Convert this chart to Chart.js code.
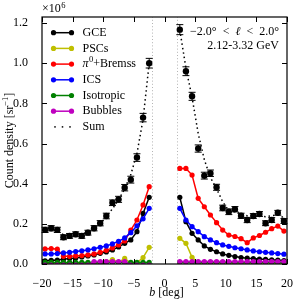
<!DOCTYPE html>
<html>
<head>
<meta charset="utf-8">
<script src="https://cdn.jsdelivr.net/npm/chart.js@4.4.1/dist/chart.umd.min.js"></script>
<style>
  html, body { margin: 0; padding: 0; background: #fff; }
</style>
</head>
<body>
<canvas id="profile" width="300" height="300"></canvas>
<script>
// Latitude bins (deg), south and north of the plane
const bSouth = [-19.5, -18.5, -17.5, -16.5, -15.5, -14.5, -13.5, -12.5, -11.5,
                -10.5, -9.5, -8.5, -7.5, -6.5, -5.5, -4.5, -3.5, -2.5];
const bNorth = [2.5, 3.5, 4.5, 5.5, 6.5, 7.5, 8.5, 9.5, 10.5,
                11.5, 12.5, 13.5, 14.5, 15.5, 16.5, 17.5, 18.5, 19.5];

// Data (x10^6 sr^-1) with errors
const dataSouth = [0.170, 0.178, 0.170, 0.133, 0.140, 0.148, 0.140, 0.156, 0.178,
                   0.203, 0.239, 0.305, 0.322, 0.380, 0.420, 0.530, 0.729, 1.000];
const dataNorth = [1.167, 0.960, 0.835, 0.575, 0.440, 0.452, 0.382, 0.279, 0.260,
                   0.273, 0.240, 0.219, 0.239, 0.249, 0.203, 0.219, 0.255, 0.214];
const errSouth = [0.013, 0.013, 0.013, 0.012, 0.012, 0.012, 0.012, 0.012, 0.013,
                  0.013, 0.014, 0.014, 0.015, 0.016, 0.017, 0.019, 0.021, 0.024];
const errNorth = [0.025, 0.022, 0.020, 0.018, 0.017, 0.016, 0.015, 0.014, 0.014,
                  0.013, 0.013, 0.013, 0.012, 0.012, 0.012, 0.012, 0.012, 0.012];

// Model components
const gceSouth = [0.016, 0.018, 0.020, 0.024, 0.027, 0.030, 0.035, 0.040, 0.045,
                  0.053, 0.060, 0.070, 0.085, 0.103, 0.120, 0.161, 0.252, 0.332];
const gceNorth = [0.332, 0.211, 0.153, 0.120, 0.090, 0.073, 0.061, 0.050, 0.043,
                  0.037, 0.032, 0.029, 0.027, 0.025, 0.023, 0.021, 0.019, 0.017];
const pscSouth = [0.005, 0.005, 0.005, 0.005, 0.005, 0.005, 0.005, 0.005, 0.005,
                  0.005, 0.012, 0.022, 0.008, 0.028, 0.005, 0.006, 0.032, 0.083];
const pscNorth = [0.128, 0.103, 0.033, 0.005, 0.005, 0.005, 0.005, 0.005, 0.005,
                  0.005, 0.005, 0.005, 0.005, 0.005, 0.005, 0.005, 0.005, 0.005];
const pionSouth = [0.075, 0.077, 0.074, 0.038, 0.038, 0.040, 0.042, 0.045, 0.050,
                   0.058, 0.068, 0.080, 0.095, 0.115, 0.169, 0.219, 0.294, 0.385];
const pionNorth = [0.476, 0.476, 0.443, 0.327, 0.285, 0.244, 0.206, 0.169, 0.144,
                   0.137, 0.126, 0.106, 0.130, 0.142, 0.158, 0.176, 0.189, 0.164];
const icsSouth = [0.050, 0.050, 0.052, 0.055, 0.058, 0.062, 0.066, 0.070, 0.076,
                  0.083, 0.090, 0.100, 0.113, 0.130, 0.156, 0.190, 0.225, 0.277];
const icsNorth = [0.277, 0.219, 0.186, 0.161, 0.136, 0.120, 0.106, 0.095, 0.088,
                  0.081, 0.076, 0.070, 0.065, 0.061, 0.058, 0.055, 0.052, 0.049];
const isoSouth = [0.008, 0.008, 0.008, 0.008, 0.008, 0.008, 0.008, 0.008, 0.008,
                  0.008, 0.008, 0.008, 0.008, 0.008, 0.008, 0.008, 0.008, 0.008];
const isoNorth = [0.008, 0.008, 0.008, 0.008, 0.008, 0.008, 0.008, 0.008, 0.008,
                  0.008, 0.008, 0.008, 0.008, 0.008, 0.008, 0.008, 0.008, 0.008];
const bubSouth = [-0.005, -0.005, -0.005, -0.005, -0.005, -0.005, -0.005, -0.005, 0.012,
                  0.012, 0.012, 0.012, 0.012, 0.012, -0.005, -0.005, -0.005, -0.005];
const bubNorth = [0.012, 0.012, 0.012, 0.012, 0.012, 0.012, 0.012, 0.012, 0.012,
                  0.012, 0.012, 0.012, 0.012, 0.012, 0.012, 0.012, 0.012, 0.012];
const sumSouth = [0.175, 0.172, 0.165, 0.145, 0.140, 0.142, 0.148, 0.160, 0.175,
                  0.200, 0.235, 0.275, 0.320, 0.375, 0.445, 0.550, 0.720, 1.000];
const sumNorth = [1.165, 0.975, 0.830, 0.650, 0.520, 0.430, 0.375, 0.310, 0.265,
                  0.260, 0.250, 0.240, 0.240, 0.240, 0.235, 0.240, 0.245, 0.230];

// Masked band |b| < 2
const maskEdges = [-2, 2];

// Axes
const xTicks = [-20, -15, -10, -5, 0, 5, 10, 15, 20];
const yTicks = [0.0, 0.2, 0.4, 0.6, 0.8, 1.0, 1.2];
const yMax = 1.23;

const SERIF = '"Liberation Serif", "DejaVu Serif", serif';

// join south and north halves with a gap at b = 0
function join(south, north) {
    return south.map((v, i) => ({ x: bSouth[i], y: v }))
        .concat([{ x: 0, y: null }])
        .concat(north.map((v, i) => ({ x: bNorth[i], y: v })));
}

function component(label, south, north, color, order) {
    return {
        label: label,
        data: join(south, north),
        borderColor: color,
        backgroundColor: color,
        borderWidth: 1.5,
        pointRadius: 2.6,
        pointBorderWidth: 0,
        pointBackgroundColor: color,
        tension: 0,
        order: order
    };
}

const datasets = [
    {
        label: 'Data',
        data: join(dataSouth, dataNorth),
        showLine: false,
        pointRadius: 3.2,
        pointBorderWidth: 0,
        pointBackgroundColor: '#000',
        borderColor: '#000',
        errors: errSouth.concat([0], errNorth),
        order: 0
    },
    {
        label: 'Sum',
        data: join(sumSouth, sumNorth),
        borderColor: '#000',
        borderWidth: 1.5,
        borderDash: [1.5, 3],
        pointRadius: 0,
        order: 1
    },
    component('Bubbles', bubSouth, bubNorth, '#bf00bf', 2),
    component('Isotropic', isoSouth, isoNorth, '#008000', 3),
    component('ICS', icsSouth, icsNorth, '#0000ff', 4),
    component('π0+Bremss', pionSouth, pionNorth, '#ff0000', 5),
    component('PSCs', pscSouth, pscNorth, '#bfbf00', 6),
    component('GCE', gceSouth, gceNorth, '#000000', 7)
];

// Legend entries in display order
const legendItems = [
    { text: 'GCE', color: '#000000' },
    { text: 'PSCs', color: '#bfbf00' },
    { text: 'π', sup: '0', rest: '+Bremss', color: '#ff0000' },
    { text: 'ICS', color: '#0000ff' },
    { text: 'Isotropic', color: '#008000' },
    { text: 'Bubbles', color: '#bf00bf' },
    { text: 'Sum', color: '#000000', dotted: true }
];

// Mask lines drawn behind the data
const maskPlugin = {
    id: 'mask',
    beforeDatasetsDraw(chart) {
        const { ctx, chartArea: a, scales } = chart;
        ctx.save();
        ctx.strokeStyle = '#b4b4b4';
        ctx.lineWidth = 1;
        ctx.setLineDash([1, 2.2]);
        maskEdges.forEach(b => {
            const px = Math.round(scales.x.getPixelForValue(b)) + 0.5;
            ctx.beginPath();
            ctx.moveTo(px, a.bottom);
            ctx.lineTo(px, a.top);
            ctx.stroke();
        });
        ctx.restore();
    }
};

// Error bars, frame, inward ticks, texts and legend
const decorPlugin = {
    id: 'decor',
    afterDatasetsDraw(chart) {
        const { ctx, scales } = chart;
        const ds = chart.data.datasets[0];
        ctx.save();
        ctx.strokeStyle = '#000';
        ctx.lineWidth = 1;
        ds.data.forEach((p, i) => {
            if (p.y === null) return;
            const e = ds.errors[i];
            const px = scales.x.getPixelForValue(p.x);
            const y1 = scales.y.getPixelForValue(p.y - e);
            const y2 = scales.y.getPixelForValue(p.y + e);
            ctx.beginPath();
            ctx.moveTo(px, y1); ctx.lineTo(px, y2);
            ctx.moveTo(px - 3.5, y1); ctx.lineTo(px + 3.5, y1);
            ctx.moveTo(px - 3.5, y2); ctx.lineTo(px + 3.5, y2);
            ctx.stroke();
        });
        ctx.restore();
    },
    afterDraw(chart) {
        const { ctx, chartArea: a, scales } = chart;
        ctx.save();

        // frame
        ctx.strokeStyle = '#000';
        ctx.lineWidth = 1.2;
        ctx.strokeRect(a.left, a.top, a.right - a.left, a.bottom - a.top);

        // inward ticks on all four sides
        ctx.lineWidth = 1;
        ctx.beginPath();
        xTicks.forEach(v => {
            const px = Math.round(scales.x.getPixelForValue(v)) + 0.5;
            ctx.moveTo(px, a.bottom); ctx.lineTo(px, a.bottom - 5);
            ctx.moveTo(px, a.top); ctx.lineTo(px, a.top + 5);
        });
        yTicks.forEach(v => {
            const py = Math.round(scales.y.getPixelForValue(v)) + 0.5;
            ctx.moveTo(a.left, py); ctx.lineTo(a.left + 5, py);
            ctx.moveTo(a.right, py); ctx.lineTo(a.right - 5, py);
        });
        ctx.stroke();

        ctx.fillStyle = '#000';
        ctx.textBaseline = 'middle';

        // multiplier
        ctx.font = '12px ' + SERIF;
        ctx.textAlign = 'left';
        ctx.fillText('×10', a.left, 9);
        const mw = ctx.measureText('×10').width;
        ctx.font = '8.5px ' + SERIF;
        ctx.fillText('6', a.left + mw + 0.5, 5.5);

        // axis titles
        ctx.font = 'italic 12px ' + SERIF;
        ctx.textAlign = 'left';
        const xt = ' [deg]';
        ctx.font = '12px ' + SERIF;
        const wDeg = ctx.measureText(xt).width;
        ctx.font = 'italic 12px ' + SERIF;
        const wB = ctx.measureText('b').width;
        const xStart = (a.left + a.right) / 2 + 2 - (wB + wDeg) / 2;
        ctx.fillText('b', xStart, 293);
        ctx.font = '12px ' + SERIF;
        ctx.fillText(xt, xStart + wB, 293);

        ctx.save();
        ctx.translate(10, (a.top + a.bottom) / 2);
        ctx.rotate(-Math.PI / 2);
        ctx.font = '12px ' + SERIF;
        const yt1 = 'Count density [sr';
        const w1 = ctx.measureText(yt1).width;
        ctx.font = '8.5px ' + SERIF;
        const w2 = ctx.measureText('−1').width;
        ctx.font = '12px ' + SERIF;
        const w3 = ctx.measureText(']').width;
        let tx = -(w1 + w2 + w3) / 2;
        ctx.fillText(yt1, tx, 0);
        ctx.font = '8.5px ' + SERIF;
        ctx.fillText('−1', tx + w1, -4);
        ctx.font = '12px ' + SERIF;
        ctx.fillText(']', tx + w1 + w2, 0);
        ctx.restore();

        // region annotation
        ctx.textAlign = 'right';
        ctx.font = '12px ' + SERIF;
        const parts = [['−2.0°  <  ', ''], ['ℓ', 'italic '], ['  <  2.0°', '']];
        let widths = parts.map(p => { ctx.font = p[1] + '12px ' + SERIF; return ctx.measureText(p[0]).width; });
        let ax = 279 - widths.reduce((s, w) => s + w, 0);
        ctx.textAlign = 'left';
        parts.forEach((p, i) => {
            ctx.font = p[1] + '12px ' + SERIF;
            ctx.fillText(p[0], ax, 32);
            ax += widths[i];
        });
        ctx.font = '12px ' + SERIF;
        ctx.textAlign = 'right';
        ctx.fillText('2.12-3.32 GeV', 279, 46);

        // legend
        ctx.textAlign = 'left';
        legendItems.forEach((it, i) => {
            const y = 32.7 + i * 15.7;
            const x0 = 53.5, x1 = 71.5;
            if (it.dotted) {
                ctx.fillStyle = '#000';
                [55, 62.5, 70].forEach(dx => ctx.fillRect(dx - 0.75, y - 0.75, 1.5, 1.5));
            } else {
                ctx.strokeStyle = it.color;
                ctx.lineWidth = 1.5;
                ctx.beginPath();
                ctx.moveTo(x0, y); ctx.lineTo(x1, y);
                ctx.stroke();
                ctx.fillStyle = it.color;
                [x0, x1].forEach(cx => {
                    ctx.beginPath();
                    ctx.arc(cx, y, 2.6, 0, Math.PI * 2);
                    ctx.fill();
                });
            }
            ctx.fillStyle = '#000';
            ctx.font = '12px ' + SERIF;
            let tx = 82.5;
            if (it.sup) {
                ctx.font = 'italic 12px ' + SERIF;
                ctx.fillText(it.text, tx, y);
                tx += ctx.measureText(it.text).width + 0.5;
                ctx.font = '8.5px ' + SERIF;
                ctx.fillText(it.sup, tx, y - 4);
                tx += ctx.measureText(it.sup).width;
                ctx.font = '12px ' + SERIF;
                ctx.fillText(it.rest, tx, y);
            } else {
                ctx.fillText(it.text, tx, y);
            }
        });

        ctx.restore();
    }
};

function minusLabel(v, digits) {
    const s = digits ? Math.abs(v).toFixed(digits) : String(Math.abs(v));
    return v < 0 ? '−' + s : s;
}

new Chart(document.getElementById('profile'), {
    type: 'line',
    data: { datasets: datasets },
    options: {
        responsive: false,
        animation: false,
        layout: { padding: { top: 17, right: 13, left: 0, bottom: 0 } },
        plugins: {
            legend: { display: false },
            tooltip: { enabled: false }
        },
        scales: {
            x: {
                type: 'linear',
                min: -20,
                max: 20,
                afterFit: s => { s.height = 36; },
                afterBuildTicks: s => { s.ticks = xTicks.map(v => ({ value: v })); },
                grid: { display: false },
                border: { display: false },
                ticks: {
                    color: '#000',
                    font: { family: SERIF, size: 12 },
                    padding: 5,
                    maxRotation: 0,
                    autoSkip: false,
                    callback: v => minusLabel(v, 0)
                }
            },
            y: {
                type: 'linear',
                min: 0,
                max: yMax,
                afterFit: s => { s.width = 42; },
                afterBuildTicks: s => { s.ticks = yTicks.map(v => ({ value: v })); },
                grid: { display: false },
                border: { display: false },
                ticks: {
                    color: '#000',
                    font: { family: SERIF, size: 12 },
                    padding: 6,
                    autoSkip: false,
                    callback: v => v.toFixed(1)
                }
            }
        }
    },
    plugins: [maskPlugin, decorPlugin]
});
</script>
</body>
</html>
